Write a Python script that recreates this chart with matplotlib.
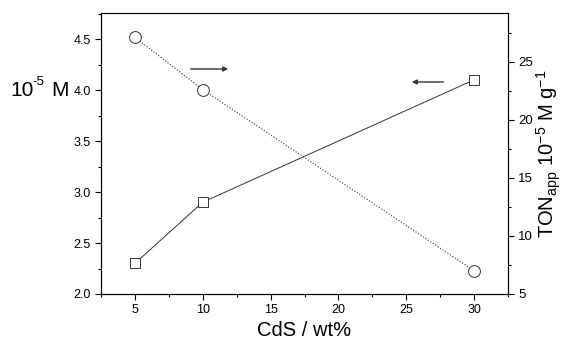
import matplotlib
matplotlib.use("Agg")
import matplotlib.pyplot as plt
from matplotlib.ticker import MultipleLocator

plt.rcParams['font.family'] = ['Liberation Sans', 'DejaVu Sans']
plt.rcParams['mathtext.fontset'] = 'custom'
plt.rcParams['mathtext.rm'] = 'Liberation Sans'
plt.rcParams['mathtext.it'] = 'Liberation Sans'

cds = [5, 10, 30]
conc = [2.3, 2.9, 4.1]
ton = [27.1, 22.6, 7.0]

fig = plt.figure(figsize=(5.68, 3.45), dpi=100)
ax = fig.add_axes([101/568, 1-294/345, (508-101)/568, (294-13)/345])
ax.plot(cds, conc, '-', color='#333333', lw=0.7, marker='s', ms=7,
        mfc='white', mec='#333333', mew=0.7, zorder=3)
ax.set_xlim(2.5, 32.5)
ax.set_ylim(2.0, 4.755)
ax.xaxis.set_major_locator(MultipleLocator(5))
ax.xaxis.set_minor_locator(MultipleLocator(2.5))
ax.yaxis.set_major_locator(MultipleLocator(0.5))
ax.yaxis.set_minor_locator(MultipleLocator(0.25))
ax.yaxis.set_major_formatter(matplotlib.ticker.FormatStrFormatter('%.1f'))
ax.tick_params(which='major', direction='out', length=4, width=0.8, labelsize=9)
ax.tick_params(which='minor', direction='out', length=2.5, width=0.8)
ax.set_xlabel('CdS / wt%', fontsize=14.5, labelpad=3)

ax2 = ax.twinx()
ax2.plot(cds, ton, ':', color='#333333', lw=0.8, marker='o', ms=8.5,
         mfc='white', mec='#333333', mew=0.7, zorder=3)
ax2.set_ylim(5, 29.2)
ax2.yaxis.set_major_locator(MultipleLocator(5))
ax2.yaxis.set_minor_locator(MultipleLocator(2.5))
ax2.tick_params(which='major', direction='out', length=4, width=0.8, labelsize=9.5)
ax2.tick_params(which='minor', direction='out', length=2.5, width=0.8)
ax2.set_ylabel('TON$_{\\mathregular{app}}$ 10$^{\\mathregular{-5}}$ M g$^{\\mathregular{-1}}$',
               fontsize=14.5, labelpad=1)

# left label built from plain text pieces (hyphen-style minus as in reference)
fig.text(10/568, 1-90/345, '10', fontsize=15, ha='left', va='center')
fig.text(32/568, 1-82/345, '-5', fontsize=9.5, ha='left', va='center')
fig.text(51/568, 1-90/345, 'M', fontsize=15, ha='left', va='center')

ax.annotate('', xy=(231, 345-69), xytext=(188, 345-69), xycoords='figure pixels',
            arrowprops=dict(arrowstyle='-|>', color='#333333', lw=1, mutation_scale=7))
ax.annotate('', xy=(409, 345-82), xytext=(446, 345-82), xycoords='figure pixels',
            arrowprops=dict(arrowstyle='-|>', color='#333333', lw=1, mutation_scale=7))
fig.savefig('out.png', dpi=100)
